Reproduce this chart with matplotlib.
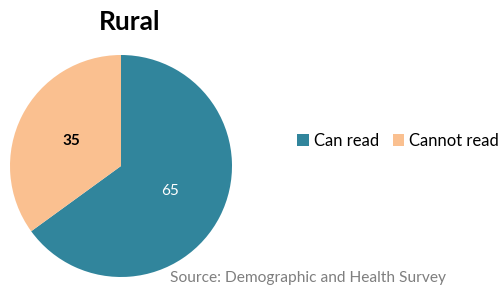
import matplotlib.pyplot as plt
import numpy as np
from matplotlib.patches import Patch

plt.rcParams['font.family'] = ['Lato', 'DejaVu Sans']

# Data
categories = ["Can read", "Cannot read"]
values = [65, 35]
colors = ["#31859C", "#FAC090"]

fig = plt.figure(figsize=(5, 2.85), dpi=100)

# pie area in pixel terms: centre ~(121,166), radius ~111
ax = fig.add_axes([10 / 500, 8 / 285, 222 / 500, 222 / 285])
wedges, _ = ax.pie(values, colors=colors, startangle=90, counterclock=False,
                   radius=1.0)
ax.set_xlim(-1, 1)
ax.set_ylim(-1, 1)
ax.set_aspect('equal')

# value labels inside the slices
for v, w, col, wt in zip(values, wedges, ["white", "black"], ["normal", "bold"]):
    mid = np.deg2rad((w.theta1 + w.theta2) / 2)
    ax.text(0.5 * np.cos(mid), 0.5 * np.sin(mid), str(v), ha='center', va='center',
            color=col, fontsize=11, fontweight=wt)

fig.text(130 / 500, 1 - 22 / 285, "Rural", ha='center', va='center',
         fontsize=19, fontweight='bold')

handles = [Patch(facecolor=c, edgecolor='none') for c in colors]
fig.legend(handles, categories, loc='center right', bbox_to_anchor=(0.998, 1 - 141 / 285),
           ncol=2, frameon=False, fontsize=12, handlelength=0.7, handleheight=0.7,
           handletextpad=0.3, columnspacing=0.8, borderaxespad=0.0, borderpad=0.0)

fig.text(170 / 500, 1 - 278 / 285, "Source: Demographic and Health Survey",
         ha='left', va='center', fontsize=11.2, color='#7f7f7f')

fig.savefig("out.png", dpi=100)
